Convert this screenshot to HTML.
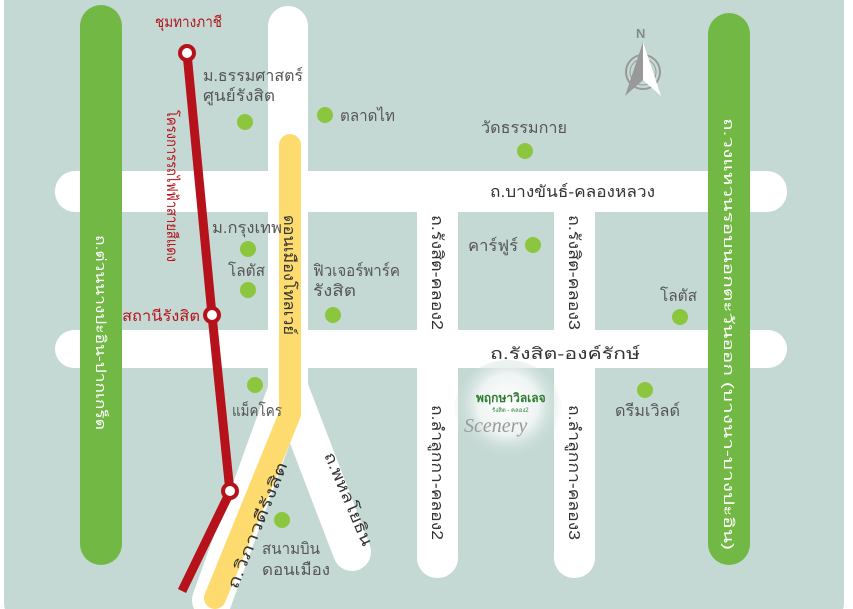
<!DOCTYPE html>
<html><head><meta charset="utf-8"><style>
html,body{margin:0;padding:0;background:#fff}
svg{display:block}
text{font-family:"Liberation Sans","DejaVu Sans",sans-serif}
.l{font-size:16px;fill:#555}
.r{font-size:16px;fill:#333}
.w{font-size:14px;fill:#fff}
.rd{font-size:15px;fill:#b5121b}
</style></head><body>
<svg width="853" height="609" viewBox="0 0 853 609" xmlns="http://www.w3.org/2000/svg">
<defs>
<radialGradient id="g" cx="0.5" cy="0.4" r="0.5"><stop offset="0" stop-color="#fff"/><stop offset="0.55" stop-color="#eef4f3"/><stop offset="1" stop-color="#c5d9d4" stop-opacity="0"/></radialGradient>
</defs>
<rect x="4" y="-30" width="840" height="660" rx="28" fill="#c5d9d4"/>
<!-- roads -->
<rect x="55" y="171" width="732" height="41" rx="20" fill="#fff"/>
<rect x="55" y="330" width="732" height="38" rx="19" fill="#fff"/>
<rect x="417" y="190" width="41" height="388" rx="20" fill="#fff"/>
<rect x="554" y="190" width="41" height="388" rx="20" fill="#fff"/>
<rect x="268" y="6" width="40" height="400" rx="20" fill="#fff"/>
<line x1="288" y1="390" x2="212" y2="600" stroke="#fff" stroke-width="40" stroke-linecap="round"/>
<line x1="290" y1="390" x2="352" y2="552" stroke="#fff" stroke-width="38" stroke-linecap="round"/>
<ellipse cx="508" cy="415" rx="55" ry="55" fill="url(#g)"/>
<!-- green bars -->
<rect x="80" y="5" width="42" height="560" rx="21" fill="#72b844"/>
<rect x="708" y="13" width="42" height="552" rx="21" fill="#72b844"/>
<!-- yellow -->
<polyline points="290,145 290,414 215,598" fill="none" stroke="#fedb6f" stroke-width="22" stroke-linecap="round" stroke-linejoin="round"/>
<!-- red -->
<polyline points="187,53 212,315 230,492 182,591" fill="none" stroke="#b5121b" stroke-width="9"/>
<circle cx="187" cy="53" r="7" fill="#fff" stroke="#b5121b" stroke-width="4"/>
<circle cx="212" cy="315" r="7" fill="#fff" stroke="#b5121b" stroke-width="4"/>
<circle cx="230" cy="491" r="7" fill="#fff" stroke="#b5121b" stroke-width="4"/>
<!-- dots -->
<g fill="#8cc63f">
<circle cx="245" cy="122" r="8"/><circle cx="325" cy="115" r="8"/><circle cx="525" cy="151" r="8"/>
<circle cx="248" cy="249" r="8"/><circle cx="248" cy="290" r="8"/><circle cx="333" cy="315" r="8"/>
<circle cx="533" cy="245" r="8"/><circle cx="680" cy="317" r="8"/><circle cx="645" cy="390" r="8"/>
<circle cx="255" cy="385" r="8"/><circle cx="282" cy="520" r="8"/>
</g>
<!-- labels -->
<g lengthAdjust="spacingAndGlyphs">
<text class="l" x="203" y="81" textLength="100" lengthAdjust="spacingAndGlyphs">ม.ธรรมศาสตร์</text>
<text class="l" x="203" y="101" textLength="72" lengthAdjust="spacingAndGlyphs">ศูนย์รังสิต</text>
<text class="l" x="340" y="121" textLength="55" lengthAdjust="spacingAndGlyphs">ตลาดไท</text>
<text class="l" x="481" y="133" textLength="86" lengthAdjust="spacingAndGlyphs">วัดธรรมกาย</text>
<text class="l" x="212" y="233" textLength="70" lengthAdjust="spacingAndGlyphs">ม.กรุงเทพ</text>
<text class="l" x="228" y="276" textLength="37" lengthAdjust="spacingAndGlyphs">โลตัส</text>
<text class="l" x="313" y="276" textLength="87" lengthAdjust="spacingAndGlyphs">ฟิวเจอร์พาร์ค</text>
<text class="l" x="313" y="296" textLength="43" lengthAdjust="spacingAndGlyphs">รังสิต</text>
<text class="l" x="468" y="251" textLength="50" lengthAdjust="spacingAndGlyphs">คาร์ฟูร์</text>
<text class="l" x="660" y="301" textLength="37" lengthAdjust="spacingAndGlyphs">โลตัส</text>
<text class="l" x="615" y="416" textLength="65" lengthAdjust="spacingAndGlyphs">ดรีมเวิลด์</text>
<text class="l" x="232" y="416" textLength="50" lengthAdjust="spacingAndGlyphs">แม็คโคร</text>
<text class="l" x="262" y="554" textLength="58" lengthAdjust="spacingAndGlyphs">สนามบิน</text>
<text class="l" x="262" y="575" textLength="68" lengthAdjust="spacingAndGlyphs">ดอนเมือง</text>
<text class="r" x="490" y="197" textLength="165" lengthAdjust="spacingAndGlyphs">ถ.บางขันธ์-คลองหลวง</text>
<text class="r" x="490" y="359" textLength="150" lengthAdjust="spacingAndGlyphs">ถ.รังสิต-องค์รักษ์</text>
<text class="r" transform="translate(432,215) rotate(90)" textLength="115" lengthAdjust="spacingAndGlyphs">ถ.รังสิต-คลอง2</text>
<text class="r" transform="translate(569,215) rotate(90)" textLength="115" lengthAdjust="spacingAndGlyphs">ถ.รังสิต-คลอง3</text>
<text class="r" transform="translate(432,405) rotate(90)" textLength="135" lengthAdjust="spacingAndGlyphs">ถ.ลำลูกกา-คลอง2</text>
<text class="r" transform="translate(569,405) rotate(90)" textLength="135" lengthAdjust="spacingAndGlyphs">ถ.ลำลูกกา-คลอง3</text>
<text class="r" transform="translate(284,215) rotate(90)" textLength="120" lengthAdjust="spacingAndGlyphs">ดอนเมืองโทลเวย์</text>
<text class="r" transform="translate(237,590) rotate(-68)" textLength="135" lengthAdjust="spacingAndGlyphs">ถ.วิภาวดีรังสิต</text>
<text class="r" transform="translate(324,455) rotate(67)" textLength="100" lengthAdjust="spacingAndGlyphs">ถ.พหลโยธิน</text>
<text class="w" transform="translate(96,235) rotate(90)" textLength="195" lengthAdjust="spacingAndGlyphs">ถ.ต่วนนางปะอิน-ปากเกร็ด</text>
<text class="w" transform="translate(724,118) rotate(90)" textLength="432" lengthAdjust="spacingAndGlyphs">ถ.วงแหวนรอบนอกตะวันออก (บางนา-บางปะอิน)</text>
<text class="rd" x="155" y="27" textLength="67" lengthAdjust="spacingAndGlyphs">ชุมทางภาชี</text>
<text class="rd" x="122" y="321" textLength="78" lengthAdjust="spacingAndGlyphs">สถานีรังสิต</text>
<text class="rd" transform="translate(167,110) rotate(90)" textLength="152" lengthAdjust="spacingAndGlyphs">โครงการรถไฟฟ้าสายสีแดง</text>
</g>
<!-- logo -->
<text x="476" y="402" style="font-size:12px;font-weight:bold;fill:#2e7d32">พฤกษาวิลเลจ</text>
<text x="492" y="412" style="font-size:6px;fill:#2e7d32">รังสิต - คลอง2</text>
<text x="464" y="432" style="font-size:20px;font-style:italic;fill:#999;font-family:'Liberation Serif',serif">Scenery</text>
<!-- compass -->
<text x="636" y="38" style="font-size:13px;font-weight:bold;fill:#888">N</text>
<circle cx="643" cy="72" r="17" fill="none" stroke="#999" stroke-width="2"/>
<circle cx="643" cy="72" r="13" fill="none" stroke="#999" stroke-width="1"/>
<polygon points="643,42 625,96 643,80" fill="#999"/>
<polygon points="643,42 661,96 643,80" fill="#fff"/>
</svg>
</body></html>
